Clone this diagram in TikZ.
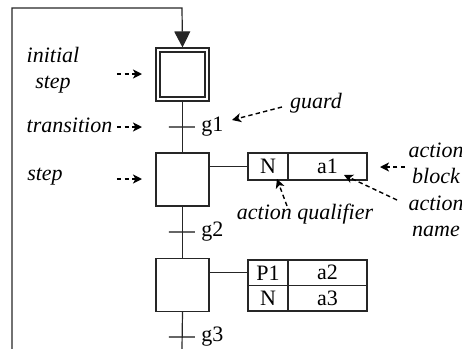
\documentclass[tikz,border=0pt]{standalone}
\usepackage{fontspec}
\setmainfont{Liberation Serif}
\usetikzlibrary{arrows.meta}
\begin{document}
\begin{tikzpicture}[x=0.5pt,y=-0.5pt,
  font=\fontsize{11}{13}\selectfont,
  line/.style={draw=black!85, line width=0.6pt},
  stepbox/.style={line, minimum size=26.5pt, inner sep=0pt},
  innerbox/.style={line, minimum size=22.5pt, inner sep=0pt},
  trans/.style={draw=black!60, line width=0.6pt, minimum width=13pt, minimum height=0pt, inner sep=0pt},
  cell/.style={line, minimum height=13.5pt, inner sep=0pt},
  cellb/.style={line, minimum height=12.75pt, inner sep=0pt},
  lbl/.style={font=\fontsize{11}{13}\selectfont\itshape, inner sep=0pt, align=center},
  note/.style={dash pattern=on 2.2pt off 1.6pt, line width=0.7pt, -{Stealth[length=4.5pt,width=4.5pt,inset=1.2pt]}},
  flow/.style={line, line width=0.6pt}
]
\useasboundingbox (0,0) rectangle (462,349);

% steps
\node[stepbox] (s0) at (182.5,74.5) {};
\node[innerbox] (s0i) at (182.5,74.5) {};
\node[trans] (t1) at (182,127) {};
\node[stepbox] (s1) at (182.5,179.5) {};
\node[trans] (t2) at (182,232) {};
\node[stepbox] (s2) at (182.5,285) {};
\node[trans] (t3) at (182,337) {};

\node[anchor=west, inner sep=0pt] (g1) at (201,127) {g1};
\node[anchor=west, inner sep=0pt] (g2) at (201,232) {g2};
\node[anchor=west, inner sep=0pt] (g3) at (201,337) {g3};

\coordinate (bl) at (12,349);
\coordinate (tl) at (12,8);
\coordinate (tr) at (182,8);
\coordinate (bc) at (182,349);

% loop back with arrow
\draw[flow, -{Triangle[length=8pt,width=8pt]}] (bl) -- (tl) -- (tr) -- (s0.north);
\draw[flow] (s0.south) -- (s1.north);
\draw[flow] (s1.south) -- (s2.north);
\draw[flow] (s2.south) -- (bc);

% action blocks
\node[cell, minimum width=20pt] (a1q) at (268,166.5) {N};
\node[cell, minimum width=39.5pt] (a1n) at (327.5,166.5) {a1};
\node[cellb, minimum width=20pt] (a2q) at (268,272.75) {P1};
\node[cellb, minimum width=39.5pt] (a2n) at (327.5,272.75) {a2};
\node[cellb, minimum width=20pt] (a3q) at (268,298.25) {N};
\node[cellb, minimum width=39.5pt] (a3n) at (327.5,298.25) {a3};

\draw[flow] (s1.east |- a1q.west) -- (a1q.west);
\draw[flow] (s2.east |- a2q.west) -- (a2q.west);

% annotation labels
\node[lbl] (linit) at (53,70) {initial\\step};
\node[lbl] (ltrans) at (69.5,125) {transition};
\node[lbl] (lstep) at (45,177) {step};
\node[lbl] (lguard) at (316,103) {guard};
\node[lbl] (lqual) at (305,214) {action qualifier};
\node[lbl] (lblock) at (436,163) {action\\block};
\node[lbl] (lname) at (436,216) {action\\name};

\coordinate (ai0) at (117,74);
\coordinate (ai1) at (142,74);
\coordinate (at0) at (117,127);
\coordinate (at1) at (142,127);
\coordinate (as0) at (117,179);
\coordinate (as1) at (142,179);
\coordinate (ag0) at (282,107);
\coordinate (ag1) at (232,120);
\coordinate (aq0) at (287,206);
\coordinate (aq1) at (277,179);
\coordinate (ab0) at (405,167);
\coordinate (ab1) at (380,167);
\coordinate (an0) at (397,200);
\coordinate (an1) at (344,175);

\draw[note] (ai0) -- (ai1);
\draw[note] (at0) -- (at1);
\draw[note] (as0) -- (as1);
\draw[note] (ag0) -- (ag1);
\draw[note] (aq0) -- (aq1);
\draw[note] (ab0) -- (ab1);
\draw[note] (an0) -- (an1);
\end{tikzpicture}
\end{document}
